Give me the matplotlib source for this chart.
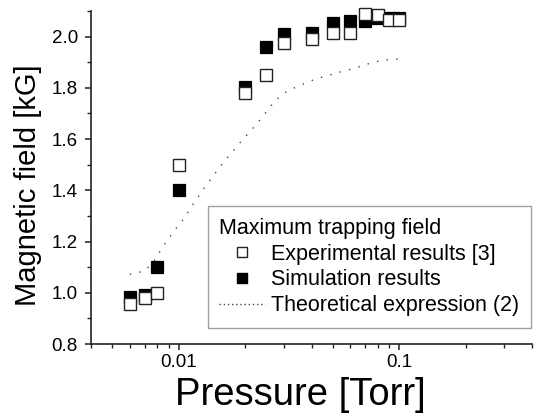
import matplotlib
matplotlib.use("Agg")
import matplotlib.pyplot as plt
from matplotlib.ticker import LogLocator, FixedLocator, FixedFormatter, MultipleLocator, NullFormatter, FormatStrFormatter
from matplotlib.lines import Line2D

plt.rcParams['font.family'] = ['Liberation Sans', 'DejaVu Sans']

# --- Data ---
pressure = [0.006, 0.007, 0.008, 0.01, 0.02, 0.025, 0.03, 0.04, 0.05, 0.06, 0.07, 0.08, 0.09, 0.1]
field_exp = [0.955, 0.98, 1.0, 1.5, 1.78, 1.85, 1.975, 1.99, 2.015, 2.015, 2.09, 2.085, 2.065, 2.065]
field_sim = [0.985, 0.99, 1.1, 1.4, 1.805, 1.96, 2.01, 2.015, 2.055, 2.06, 2.06, 2.072, 2.073, 2.073]

theory_p = [0.006, 0.007, 0.00765, 0.0085, 0.0094, 0.0105, 0.0116, 0.0129, 0.0143, 0.0159,
            0.0176, 0.0195, 0.0225, 0.0249, 0.0272, 0.0302, 0.0335, 0.0378, 0.042, 0.0474,
            0.0535, 0.0626, 0.0731, 0.084, 0.1]
theory_b = [1.072, 1.085, 1.118, 1.182, 1.235, 1.287, 1.345, 1.403, 1.455, 1.508,
            1.553, 1.598, 1.657, 1.705, 1.748, 1.781, 1.80, 1.82, 1.835, 1.848,
            1.861, 1.876, 1.895, 1.908, 1.913]

x_ticks = [0.01, 0.1]
x_tick_labels = ["0.01", "0.1"]

W, H, DPI = 539, 419, 100
fig = plt.figure(figsize=(W / DPI, H / DPI), dpi=DPI)
ax = fig.add_axes((91 / W, 75 / H, 441 / W, 333 / H))

MS = 8.3
ax.plot(theory_p, theory_b, color="#444444", lw=1.0, linestyle=(0, (1, 6)))
ax.plot(pressure, field_sim, linestyle="none", marker="s", ms=MS,
        mfc="black", mec="black", mew=0.9, clip_on=False)
ax.plot(pressure, field_exp, linestyle="none", marker="s", ms=MS,
        mfc="white", mec="#222222", mew=1.0, clip_on=False)

ax.set_xscale("log")
ax.set_xlim(0.004, 0.4)
ax.set_ylim(0.8, 2.1)

ax.xaxis.set_major_locator(FixedLocator(x_ticks))
ax.xaxis.set_major_formatter(FixedFormatter(x_tick_labels))
ax.xaxis.set_minor_locator(LogLocator(base=10, subs=range(2, 10)))
ax.xaxis.set_minor_formatter(NullFormatter())
ax.yaxis.set_major_locator(MultipleLocator(0.2))
ax.yaxis.set_minor_locator(MultipleLocator(0.1))
ax.yaxis.set_major_formatter(FormatStrFormatter("%.1f"))

for side in ("top", "right"):
    ax.spines[side].set_visible(False)
for side in ("left", "bottom"):
    ax.spines[side].set_linewidth(1.2)
    ax.spines[side].set_color("#222222")

ax.tick_params(which="major", direction="out", length=4.5, width=1.1, labelsize=13.5, color="#222222")
ax.tick_params(which="minor", direction="out", length=2.7, width=1.0, color="#222222")
ax.tick_params(axis="y", which="major", pad=5)
ax.tick_params(axis="x", which="major", pad=3)

ax.set_xlabel("Pressure [Torr]", fontsize=27.5, labelpad=4)
ax.xaxis.label.set_x(0.474)
ax.set_ylabel("Magnetic field [kG]", fontsize=21)
ax.yaxis.set_label_coords(-0.111, 0.477)

handles = [
    Line2D([], [], linestyle="none", marker="s", ms=7.5, mfc="white", mec="#222222", mew=1.0),
    Line2D([], [], linestyle="none", marker="s", ms=7.5, mfc="black", mec="black"),
    Line2D([], [], color="#444444", lw=1.0, linestyle=(0, (1, 2))),
]
labels = ["Experimental results [3]", "Simulation results", "Theoretical expression (2)"]
leg = ax.legend(handles, labels, title="Maximum trapping field", loc="lower right",
                bbox_to_anchor=(0.9977, 0.048), borderaxespad=0, fontsize=15.5,
                title_fontsize=15.5, alignment="left", frameon=True, fancybox=False,
                edgecolor="#888888", handlelength=2.1, handletextpad=0.3,
                labelspacing=0.22, borderpad=0.55)
leg.get_frame().set_linewidth(1.0)

fig.savefig("out.png", dpi=DPI)
